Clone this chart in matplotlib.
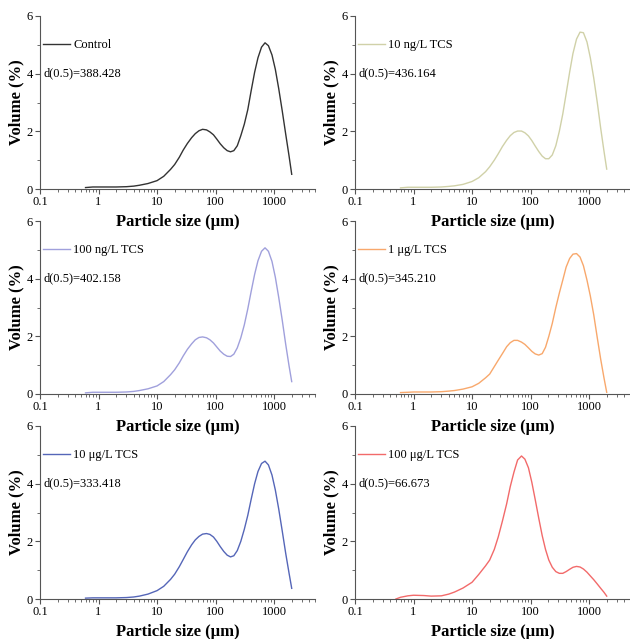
import numpy as np
import matplotlib
matplotlib.use("Agg")
import matplotlib.pyplot as plt
from matplotlib.ticker import LogLocator, FixedLocator, NullFormatter

plt.rcParams['font.family'] = ['Liberation Serif', 'DejaVu Serif']

# particle size grid (um) at which the curves were read
size_um = [0.5, 0.6, 0.8, 1, 1.5, 2, 3, 4, 5, 7, 10, 13, 17, 20, 24, 28, 33, 39, 45,
           52, 60, 70, 80, 92, 105, 120, 138, 158, 180, 205, 235, 270, 310, 355, 405,
           465, 530, 610, 700, 800, 920, 1050, 1200, 1380, 1580, 1800, 2000]
nan = np.nan

control = [nan, 0.05, 0.07, 0.07, 0.07, 0.07, 0.08, 0.10, 0.13, 0.19, 0.29, 0.44, 0.68,
           0.85, 1.10, 1.35, 1.58, 1.78, 1.92, 2.02, 2.07, 2.05, 1.98, 1.88, 1.73, 1.57,
           1.43, 1.33, 1.29, 1.33, 1.50, 1.85, 2.25, 2.75, 3.40, 4.05, 4.55, 4.92, 5.07,
           4.97, 4.65, 4.15, 3.48, 2.70, 1.90, 1.15, 0.51]
ng10 = [nan, 0.04, 0.06, 0.06, 0.06, 0.06, 0.07, 0.09, 0.11, 0.16, 0.26, 0.39, 0.60,
        0.77, 1.00, 1.22, 1.47, 1.69, 1.85, 1.96, 2.01, 2.01, 1.95, 1.84, 1.68, 1.49,
        1.30, 1.14, 1.05, 1.05, 1.18, 1.50, 2.00, 2.60, 3.30, 4.05, 4.70, 5.20, 5.44,
        5.42, 5.10, 4.55, 3.85, 3.00, 2.10, 1.30, 0.69]
ng100 = [nan, 0.04, 0.06, 0.06, 0.06, 0.06, 0.07, 0.09, 0.12, 0.18, 0.28, 0.43, 0.67,
         0.84, 1.08, 1.32, 1.55, 1.74, 1.88, 1.96, 1.98, 1.95, 1.88, 1.77, 1.63, 1.49,
         1.38, 1.31, 1.30, 1.38, 1.60, 1.95, 2.40, 2.95, 3.55, 4.15, 4.62, 4.95, 5.07,
         4.95, 4.60, 4.05, 3.35, 2.55, 1.72, 0.98, 0.43]
ug1 = [nan, 0.05, 0.06, 0.07, 0.07, 0.07, 0.08, 0.10, 0.12, 0.17, 0.25, 0.37, 0.56,
       0.69, 0.95, 1.17, 1.40, 1.64, 1.78, 1.86, 1.86, 1.80, 1.72, 1.60, 1.48, 1.39,
       1.35, 1.40, 1.62, 2.00, 2.45, 3.00, 3.50, 3.95, 4.40, 4.70, 4.85, 4.87, 4.75,
       4.45, 3.95, 3.40, 2.75, 1.95, 1.20, 0.55, 0.06]
ug10 = [nan, 0.03, 0.04, 0.04, 0.04, 0.04, 0.05, 0.07, 0.10, 0.17, 0.29, 0.44, 0.68,
        0.86, 1.12, 1.37, 1.64, 1.88, 2.05, 2.17, 2.25, 2.27, 2.24, 2.15, 2.00, 1.82,
        1.65, 1.52, 1.46, 1.50, 1.68, 2.00, 2.42, 2.90, 3.45, 4.00, 4.42, 4.70, 4.78,
        4.65, 4.30, 3.78, 3.12, 2.35, 1.58, 0.90, 0.37]
ug100 = [0.0, 0.06, 0.11, 0.13, 0.12, 0.10, 0.11, 0.17, 0.24, 0.38, 0.58, 0.85, 1.15,
         1.35, 1.72, 2.15, 2.70, 3.30, 3.90, 4.40, 4.82, 4.96, 4.85, 4.55, 4.05, 3.45,
         2.80, 2.20, 1.72, 1.35, 1.10, 0.95, 0.89, 0.89, 0.95, 1.03, 1.10, 1.13, 1.11,
         1.04, 0.93, 0.80, 0.67, 0.52, 0.37, 0.23, 0.10]

series = [control, ng10, ng100, ug1, ug10, ug100]
labels = ['Control', '10 ng/L TCS', '100 ng/L TCS', '1 \u03bcg/L TCS',
          '10 \u03bcg/L TCS', '100 \u03bcg/L TCS']
d50 = ['388.428', '436.164', '402.158', '345.210', '333.418', '66.673']
colors = ['#333333', '#d0d1a8', '#a0a0dc', '#f8a86c', '#5566b8', '#f26a6a']

fig = plt.figure(figsize=(6.3, 6.39), dpi=100)
lefts = [40 / 630, 355 / 630]
bottoms = [1 - 189 / 639, 1 - 394 / 639, 1 - 599 / 639]
w = 275 / 630
h = 173 / 639

for i in range(6):
    r, c = divmod(i, 2)
    ax = fig.add_axes([lefts[c], bottoms[r], w, h])
    ax.set_facecolor('none')  # so the x label of the row above stays visible
    ax.plot(size_um, series[i], color=colors[i], lw=1.0, label=labels[i])
    ax.set_xscale('log')
    ax.set_xlim(0.1, 5000)
    ax.set_ylim(0, 6)
    ax.spines['top'].set_visible(False)
    ax.spines['right'].set_visible(False)
    for s in ['left', 'bottom']:
        ax.spines[s].set_color('#555555')
        ax.spines[s].set_linewidth(0.8)
    ax.set_xticks([0.1, 1, 10, 100, 1000])
    ax.set_xticklabels(['0.1', '1', '10', '100', '1000'])
    ax.xaxis.set_minor_locator(LogLocator(base=10, subs=np.arange(2, 10)))
    ax.xaxis.set_minor_formatter(NullFormatter())
    ax.set_yticks([0, 2, 4, 6])
    ax.yaxis.set_minor_locator(FixedLocator([1, 3, 5]))
    ax.tick_params(which='major', direction='out', length=3.5, width=0.8,
                   color='#555555', labelsize=9, pad=1.5)
    ax.tick_params(which='minor', direction='out', length=2, width=0.6,
                   color='#555555')
    ax.set_ylabel('Volume (%)', fontsize=12, fontweight='bold')
    ax.yaxis.set_label_coords(-0.055, 0.5)
    ax.set_xlabel('Particle size (\u03bcm)', fontsize=12, fontweight='bold')
    ax.xaxis.set_label_coords(0.5, -0.145)
    ax.legend(loc='center left', bbox_to_anchor=(-0.007, 0.833), frameon=False,
              handlelength=2.16, handletextpad=0.24, fontsize=9,
              borderaxespad=0)
    ax.text(0.012, 0.667, 'd(0.5)=' + d50[i], transform=ax.transAxes,
            fontsize=9, va='center', ha='left')

fig.savefig('out.png', dpi=100)
